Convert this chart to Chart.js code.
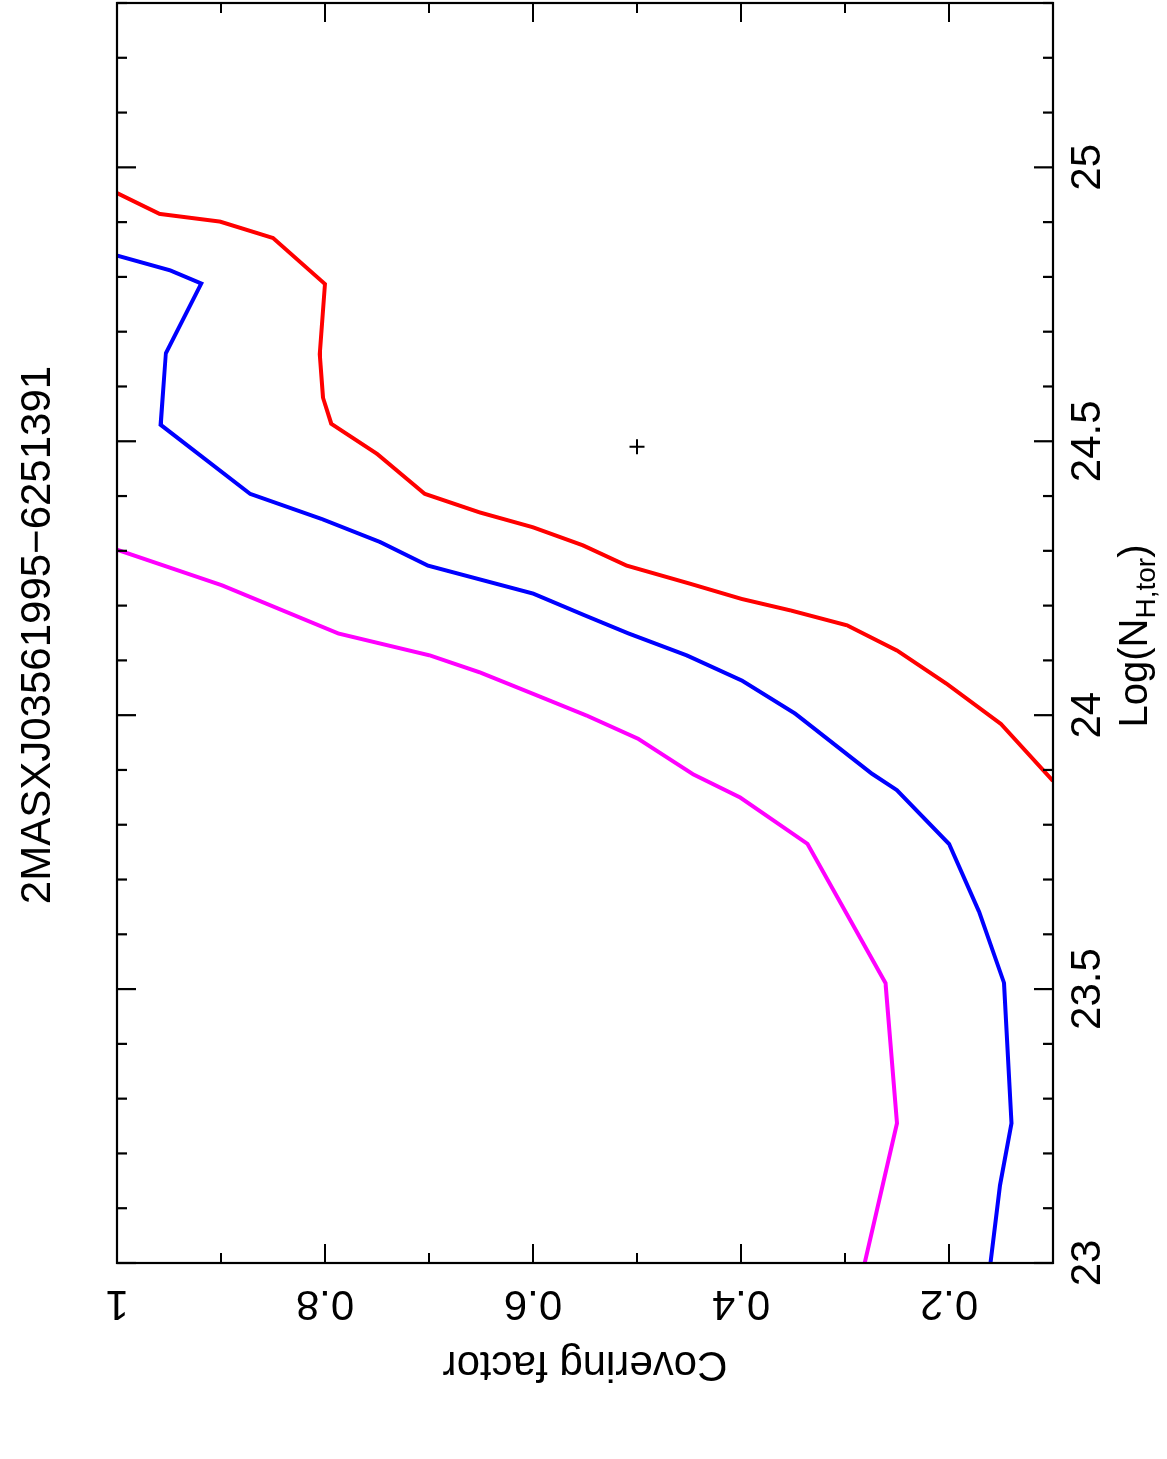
<!DOCTYPE html>
<html>
<head>
<meta charset="utf-8">
<script src="https://cdn.jsdelivr.net/npm/chart.js@4.4.1/dist/chart.umd.min.js"></script>
<style>
  html, body { margin: 0; padding: 0; background: #fff; overflow: hidden; }
  #wrap {
    position: absolute; left: 0; top: 0;
    width: 1459px; height: 1167px;
    transform-origin: 0 0;
    transform: translate(0, 1459px) rotate(-90deg);
  }
</style>
</head>
<body>
<div id="wrap"><canvas id="myChart" width="1459" height="1167"></canvas></div>
<script>
  // plot is drawn landscape then turned 90 deg, like the original figure
  var title = '2MASXJ03561995\u22126251391';

  var nhTicks = [23, 23.5, 24, 24.5, 25];
  var cfTicks = [0.2, 0.4, 0.6, 0.8, 1];

  var magentaNH = [24.302, 24.237, 24.149, 24.109, 24.078, 24.039, 23.999, 23.957, 23.892, 23.850, 23.765, 23.511, 23.255, 23.000];
  var magentaCF = [1.000, 0.899, 0.787, 0.699, 0.651, 0.600, 0.548, 0.499, 0.446, 0.401, 0.336, 0.261, 0.250, 0.281];

  var blueNH = [24.839, 24.812, 24.788, 24.661, 24.530, 24.404, 24.358, 24.316, 24.273, 24.222, 24.182, 24.149, 24.109, 24.063, 24.003, 23.893, 23.863, 23.765, 23.641, 23.511, 23.255, 23.142, 23.000];
  var blueCF = [1.000, 0.949, 0.919, 0.953, 0.958, 0.872, 0.803, 0.747, 0.701, 0.600, 0.550, 0.508, 0.452, 0.399, 0.348, 0.274, 0.250, 0.200, 0.171, 0.147, 0.140, 0.151, 0.160];

  var redNH = [24.953, 24.915, 24.901, 24.871, 24.787, 24.659, 24.580, 24.532, 24.477, 24.404, 24.370, 24.343, 24.310, 24.273, 24.240, 24.212, 24.191, 24.164, 24.118, 24.057, 23.984, 23.880];
  var redCF = [1.000, 0.959, 0.901, 0.850, 0.800, 0.805, 0.802, 0.794, 0.750, 0.704, 0.651, 0.600, 0.552, 0.510, 0.449, 0.399, 0.352, 0.298, 0.250, 0.202, 0.150, 0.100];

  var bestNH = [24.49];
  var bestCF = [0.50];

  function pts(xs, ys) {
    return xs.map(function(v, i) { return { x: v, y: ys[i] }; });
  }

  function curve(xs, ys, color) {
    return {
      data: pts(xs, ys),
      showLine: true,
      borderColor: color,
      borderWidth: 4,
      pointRadius: 0,
      tension: 0
    };
  }

  var font = '"Liberation Sans", Arial, Helvetica, sans-serif';

  var framePlugin = {
    id: 'framePlugin',
    afterDraw: function(chart) {
      var ctx = chart.ctx;
      var a = chart.chartArea;
      var xs = chart.scales.x;
      var ys = chart.scales.y;
      ctx.save();
      ctx.strokeStyle = '#000';
      ctx.fillStyle = '#000';
      ctx.lineWidth = 2.2;
      ctx.lineCap = 'butt';
      ctx.strokeRect(a.left, a.top, a.right - a.left, a.bottom - a.top);

      ctx.beginPath();
      for (var i = 0; i <= 23; i++) {
        var v = 23 + i * 0.1;
        var px = xs.getPixelForValue(v);
        var len = (i % 5 === 0) ? 19 : 10;
        ctx.moveTo(px, a.bottom); ctx.lineTo(px, a.bottom - len);
        ctx.moveTo(px, a.top); ctx.lineTo(px, a.top + len);
      }
      for (var j = 1; j <= 10; j++) {
        var c = j / 10;
        var py = ys.getPixelForValue(c);
        var l2 = (j % 2 === 0) ? 19 : 10;
        ctx.moveTo(a.left, py); ctx.lineTo(a.left + l2, py);
        ctx.moveTo(a.right, py); ctx.lineTo(a.right - l2, py);
      }
      ctx.stroke();

      ctx.font = '42px ' + font;
      ctx.textAlign = 'center';
      ctx.textBaseline = 'alphabetic';
      nhTicks.forEach(function(t) {
        ctx.fillText(String(t), xs.getPixelForValue(t), 1100);
      });
      cfTicks.forEach(function(t) {
        ctx.save();
        ctx.translate(168, ys.getPixelForValue(t));
        ctx.rotate(-Math.PI / 2);
        ctx.fillText(String(t), 0, 0);
        ctx.restore();
      });

      // axis titles
      ctx.save();
      ctx.translate(107, (a.top + a.bottom) / 2);
      ctx.rotate(-Math.PI / 2);
      ctx.fillText('Covering factor', 0, 0);
      ctx.restore();

      var big = '40px ' + font, small = '28px ' + font;
      ctx.font = big;
      var w1 = ctx.measureText('Log(N').width;
      var w3 = ctx.measureText(')').width;
      ctx.font = small;
      var w2 = ctx.measureText('H,tor').width;
      var x0 = 823 - (w1 + w2 + w3) / 2;
      ctx.textAlign = 'left';
      ctx.font = big;
      ctx.fillText('Log(N', x0, 1147);
      ctx.font = small;
      ctx.fillText('H,tor', x0 + w1, 1155);
      ctx.font = big;
      ctx.fillText(')', x0 + w1 + w2, 1147);

      ctx.textAlign = 'center';
      ctx.font = '42px ' + font;
      ctx.fillText(title, 824, 50);
      ctx.restore();
    }
  };

  new Chart(document.getElementById('myChart'), {
    type: 'scatter',
    data: {
      datasets: [
        curve(magentaNH, magentaCF, '#ff00ff'),
        curve(blueNH, blueCF, '#0000ff'),
        curve(redNH, redCF, '#ff0000'),
        {
          data: pts(bestNH, bestCF),
          pointStyle: 'cross',
          pointRadius: 7.5,
          borderColor: '#000',
          borderWidth: 2,
          showLine: false
        }
      ]
    },
    options: {
      responsive: false,
      devicePixelRatio: 1,
      animation: false,
      layout: { autoPadding: false, padding: { left: 196, right: 3, top: 117, bottom: 114 } },
      plugins: { legend: { display: false }, tooltip: { enabled: false }, title: { display: false } },
      scales: {
        x: { type: 'linear', min: 23, max: 25.3, display: false },
        y: { type: 'linear', min: 0.1, max: 1, display: false }
      }
    },
    plugins: [framePlugin]
  });
</script>
</body>
</html>
